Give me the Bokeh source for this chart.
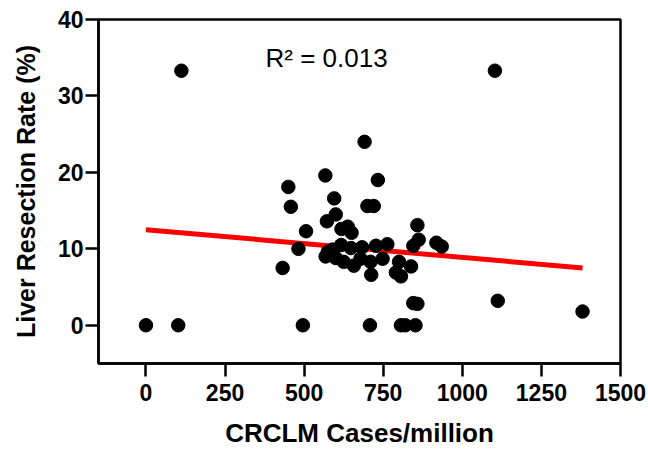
from bokeh.plotting import figure
from bokeh.models import Range1d, FixedTicker, Label
from bokeh.embed import file_html
from bokeh.resources import INLINE

cases = [0, 102, 112, 1103, 496, 708, 806, 820, 852,
         845, 858, 1112, 1380,
         432, 482, 506, 450, 458, 567, 595, 691, 733, 700, 720, 600, 572, 618, 638, 650,
         617, 648, 683, 727, 763, 575, 568, 600, 625, 657, 678, 710, 712, 748, 800, 790,
         806, 838, 845, 862, 858, 918, 935, 590]
rates = [0, 0, 33.3, 33.3, 0, 0, 0, 0, 0,
         2.9, 2.8, 3.2, 1.8,
         7.5, 10.0, 12.3, 18.1, 15.5, 19.6, 16.6, 24.0, 19.0, 15.6, 15.6, 14.5, 13.6, 12.6, 12.9, 12.1,
         10.5, 10.1, 10.2, 10.4, 10.6, 9.6, 9.0, 8.8, 8.3, 7.8, 8.7, 8.3, 6.6, 8.7, 8.3, 6.9,
         6.4, 7.7, 10.4, 11.2, 13.1, 10.8, 10.3, 9.9]

fit_x = [0, 1380]
fit_y = [12.5, 7.5]

x_ticks = [0, 250, 500, 750, 1000, 1250, 1500]
y_ticks = [0, 10, 20, 30, 40]

x_title = "CRCLM Cases/million"
y_title = "Liver Resection Rate (%)"
r2_text = "R² = 0.013"

FONT = "Liberation Sans"

p = figure(width=648, height=450, output_backend="svg", toolbar_location=None,
           x_range=Range1d(-150, 1500), y_range=Range1d(-5, 40),
           min_border_left=98, min_border_right=28, min_border_top=19, min_border_bottom=85)
p.grid.visible = False
p.outline_line_color = "black"
p.outline_line_width = 2.5

p.line(fit_x, fit_y, line_color="#ff0000", line_width=5)
p.scatter(cases, rates, size=13.5, fill_color="black", line_color="black")

for ax in (p.xaxis[0], p.yaxis[0]):
    ax.axis_line_width = 2.5
    ax.major_tick_line_width = 2.5
    ax.major_tick_in = 0
    ax.major_tick_out = 13
    ax.minor_tick_line_color = None
    ax.major_label_text_font = FONT
    ax.major_label_text_font_style = "bold"
    ax.major_label_text_font_size = "23px"
    ax.major_label_text_color = "black"
    ax.axis_label_text_font = FONT
    ax.axis_label_text_font_style = "bold"
    ax.axis_label_text_color = "black"

p.xaxis[0].ticker = FixedTicker(ticks=x_ticks)
p.yaxis[0].ticker = FixedTicker(ticks=y_ticks)
p.xaxis[0].axis_label = x_title
p.yaxis[0].axis_label = y_title
p.xaxis[0].axis_label_text_font_size = "26px"
p.yaxis[0].axis_label_text_font_size = "25px"
p.xaxis[0].major_label_standoff = 7
p.yaxis[0].major_label_standoff = 2
p.xaxis[0].axis_label_standoff = 14
p.yaxis[0].axis_label_standoff = 15

p.add_layout(Label(x=378, y=33.0, text=r2_text, text_font=FONT,
                   text_font_size="26px", text_color="black"))

open("out.html", "w").write(file_html(p, INLINE))
